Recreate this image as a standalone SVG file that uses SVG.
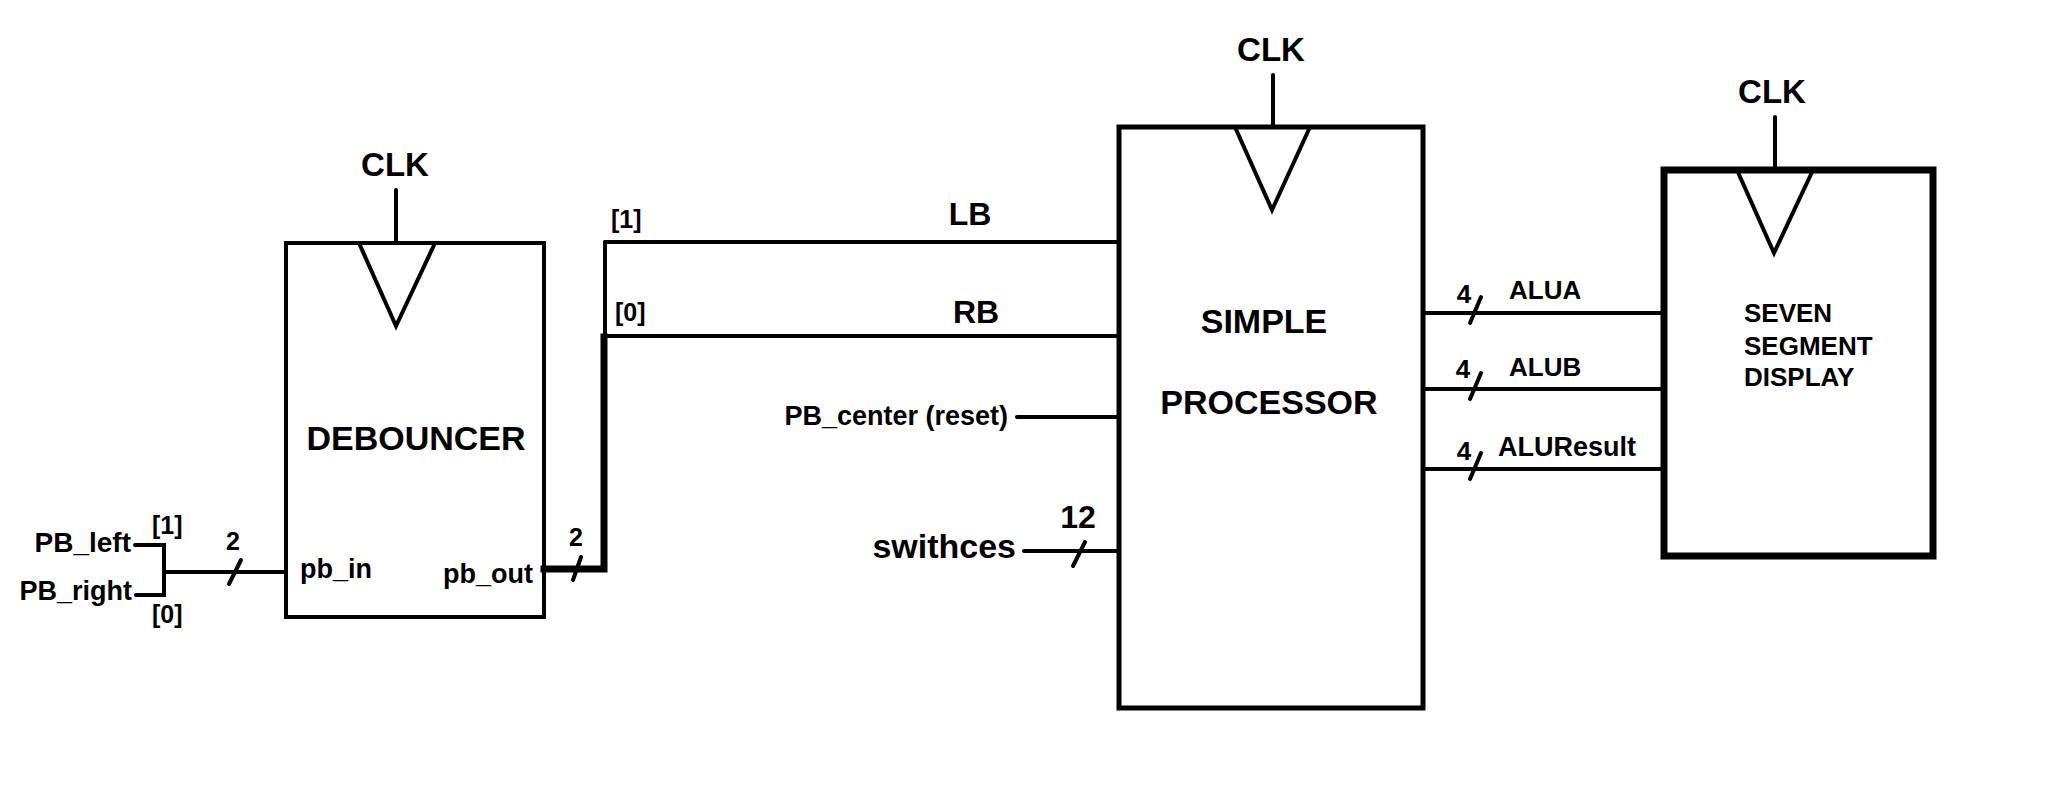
<svg xmlns="http://www.w3.org/2000/svg" width="2048" height="796" viewBox="0 0 2048 796">
<style>
text{font-family:"Liberation Sans",Arial,sans-serif;font-weight:bold;fill:#000}
.box{fill:#fff;stroke:#000}
.w{stroke:#000;stroke-width:4;fill:none;stroke-linecap:round}
.bus{stroke:#000;stroke-width:7;fill:none;stroke-linecap:square}
.sl{stroke:#000;stroke-width:4;stroke-linecap:round}
.clk{stroke:#000;stroke-width:4;fill:none;stroke-linejoin:miter}
</style>
<rect width="2048" height="796" fill="#fff"/>

<g id="debouncer">
<rect class="box" x="286" y="243" width="258" height="374" stroke-width="4"/>
<line class="w" x1="396" y1="190" x2="396" y2="243"/>
<polyline class="clk" points="359,243 396,326 435,243"/>
<text x="395" y="176" font-size="33" text-anchor="middle">CLK</text>
<text x="416" y="450" font-size="34" text-anchor="middle">DEBOUNCER</text>
<text x="300" y="578" font-size="27">pb_in</text>
<text x="443" y="583" font-size="27">pb_out</text>
</g>

<g id="processor">
<rect class="box" x="1119" y="127" width="304" height="581" stroke-width="5"/>
<line class="w" x1="1273" y1="75" x2="1273" y2="127"/>
<polyline class="clk" points="1235,127 1272,210 1310,127"/>
<text x="1271" y="61" font-size="33" text-anchor="middle">CLK</text>
<text x="1264" y="333" font-size="34" text-anchor="middle">SIMPLE</text>
<text x="1269" y="414" font-size="34" text-anchor="middle">PROCESSOR</text>
</g>

<g id="sevenseg">
<rect class="box" x="1664" y="170" width="269" height="386" stroke-width="7"/>
<line class="w" x1="1775" y1="117" x2="1775" y2="170"/>
<polyline class="clk" points="1737,170 1774,253 1813,170"/>
<text x="1772" y="103" font-size="33" text-anchor="middle">CLK</text>
<text x="1744" y="322" font-size="26">SEVEN</text>
<text x="1744" y="355" font-size="26">SEGMENT</text>
<text x="1744" y="386" font-size="26">DISPLAY</text>
</g>

<g id="connectors">
<polyline class="w" points="135,545 164,545 164,595 136,595"/>
<line class="w" x1="164" y1="572" x2="286" y2="572"/>
<line class="sl" x1="229" y1="584" x2="241" y2="560"/>
<polyline class="bus" points="544,569 604,569 604,337"/>
<line class="sl" x1="573" y1="580" x2="581" y2="557"/>
<line class="w" x1="605" y1="337" x2="605" y2="242"/>
<line class="w" x1="605" y1="242" x2="1119" y2="242" stroke-linecap="butt"/>
<line class="w" x1="604" y1="336" x2="1119" y2="336" stroke-linecap="butt"/>
<line class="w" x1="1017" y1="417" x2="1119" y2="417"/>
<line class="w" x1="1024" y1="551" x2="1119" y2="551"/>
<line class="sl" x1="1073" y1="566" x2="1085" y2="542"/>
<line class="w" x1="1423" y1="313" x2="1664" y2="313" stroke-linecap="butt"/>
<line class="sl" x1="1470" y1="323" x2="1481" y2="297"/>
<line class="w" x1="1423" y1="389" x2="1664" y2="389" stroke-linecap="butt"/>
<line class="sl" x1="1470" y1="399" x2="1481" y2="373"/>
<line class="w" x1="1423" y1="469" x2="1664" y2="469" stroke-linecap="butt"/>
<line class="sl" x1="1470" y1="479" x2="1481" y2="453"/>
</g>

<g id="labels">
<text x="131" y="552" font-size="28" text-anchor="end">PB_left</text>
<text x="132" y="600" font-size="27" text-anchor="end">PB_right</text>
<text x="152" y="534" font-size="25">[1]</text>
<text x="152" y="623" font-size="25">[0]</text>
<text x="233" y="550" font-size="25" text-anchor="middle">2</text>
<text x="576" y="546" font-size="25" text-anchor="middle">2</text>
<text x="611" y="228" font-size="25">[1]</text>
<text x="615" y="321" font-size="25">[0]</text>
<text x="970" y="225" font-size="32" text-anchor="middle">LB</text>
<text x="976" y="323" font-size="32" text-anchor="middle">RB</text>
<text x="1008" y="425" font-size="27" text-anchor="end">PB_center (reset)</text>
<text x="1016" y="558" font-size="34" text-anchor="end">swithces</text>
<text x="1078" y="528" font-size="32" text-anchor="middle">12</text>
<text x="1464" y="303" font-size="26" text-anchor="middle">4</text>
<text x="1509" y="299" font-size="26">ALUA</text>
<text x="1463" y="378" font-size="26" text-anchor="middle">4</text>
<text x="1509" y="376" font-size="26">ALUB</text>
<text x="1464" y="460" font-size="26" text-anchor="middle">4</text>
<text x="1498" y="456" font-size="27">ALUResult</text>
</g>
</svg>
